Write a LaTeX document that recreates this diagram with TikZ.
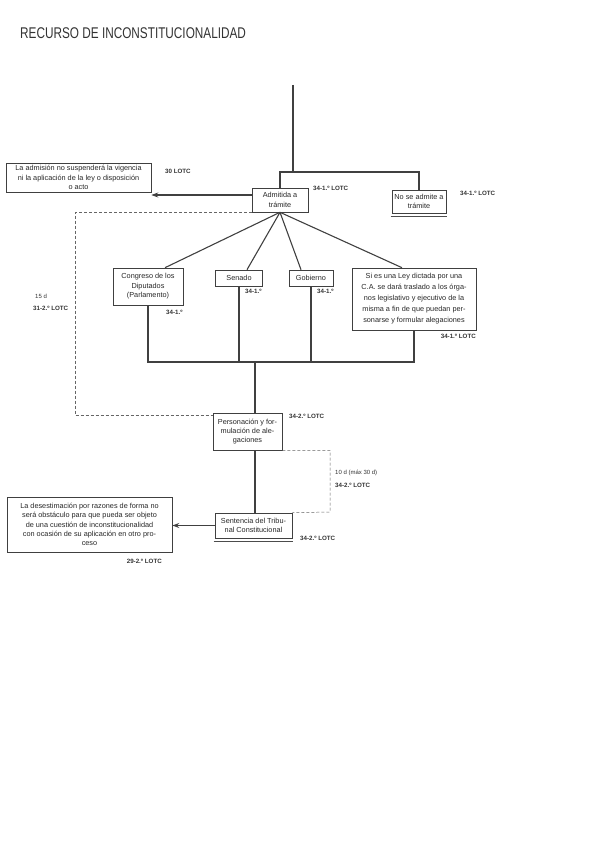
\documentclass[tikz,border=0pt]{standalone}
\usepackage{fontspec}
\setmainfont{Liberation Sans}
\usetikzlibrary{calc,arrows.meta}
\begin{document}
\begin{tikzpicture}[
		x=1pt, y=-1pt,
		caja/.style={
			draw=black!75,
			rectangle,
			line width=0.6pt,
			inner sep=1pt,
			align=center,
			text=black!85,
			font=\fontsize{7.3}{9.4}\selectfont
		},
		etiqueta/.style={
			anchor=west,
			inner sep=0pt,
			text=black!80,
			font=\fontsize{6.2}{7}\selectfont\bfseries
		},
		linea/.style={line width=1.1pt, draw=black!75},
		flecha/.style={linea, -{Stealth[length=7pt,width=5pt]}},
		discontinua/.style={dash pattern=on 3pt off 2pt, line width=0.5pt, draw=black!60}
		]
		\useasboundingbox (0,0) rectangle (600,848);
		
		\node[anchor=west, inner sep=0pt, text=black!80, font=\fontsize{15.5}{15.5}\selectfont] (titulo) at (20,33) {\scalebox{0.76}[1]{RECURSO DE INCONSTITUCIONALIDAD}};
		
		\coordinate (inicio) at (293,85);
		\coordinate (cruce) at (293,172);
		
		\node[caja, minimum width=145pt, minimum height=29pt] (suspension) at (78.5,177.5) {La admisión no suspenderá la vigencia\\ ni la aplicación de la ley o disposición\\ o acto};
		\node[caja, minimum width=56pt, minimum height=24pt] (admitida) at (280,200) {Admitida a\\ trámite};
		\node[caja, minimum width=54pt, minimum height=23pt] (noadmite) at (419,201.5) {No se admite a\\ trámite};
		
		\node[caja, minimum width=70pt, minimum height=37pt] (congreso) at (148,286.5) {Congreso de los\\ Diputados\\ (Parlamento)};
		\node[caja, minimum width=47pt, minimum height=16pt] (senado) at (239,278) {Senado};
		\node[caja, minimum width=44pt, minimum height=16pt] (gobierno) at (311,278) {Gobierno};
		\node[caja, minimum width=124pt, minimum height=62pt, font=\fontsize{7.3}{11}\selectfont] (ccaa) at (414,299) {Si es una Ley dictada por una\\ C.A. se dará traslado a los órga-\\ nos legislativo y ejecutivo de la\\ misma a fin de que puedan per-\\ sonarse y formular alegaciones};
		
		\node[caja, minimum width=69pt, minimum height=37pt] (personacion) at (247.5,431.5) {Personación y for-\\ mulación de ale-\\ gaciones};
		\node[caja, minimum width=77pt, minimum height=25pt] (sentencia) at (253.5,525.5) {Sentencia del Tribu-\\ nal Constitucional};
		\node[caja, minimum width=165pt, minimum height=55pt] (desestimacion) at (89.5,524.5) {La desestimación por razones de forma no\\ será obstáculo para que pueda ser objeto\\ de una cuestión de inconstitucionalidad\\ con ocasión de su aplicación en otro pro-\\ ceso};
		
		%Etiquetas
		\node[etiqueta] (l30) at (165,171) {30 LOTC};
		\node[etiqueta] (ladm) at (313,188) {34-1.º LOTC};
		\node[etiqueta] (lnoadm) at (460,193) {34-1.º LOTC};
		\node[etiqueta] (lcong) at (166,312) {34-1.º};
		\node[etiqueta] (lsen) at (245,291) {34-1.º};
		\node[etiqueta] (lgob) at (317,291) {34-1.º};
		\node[etiqueta, anchor=east] (lccaa) at (476,336) {34-1.º LOTC};
		\node[etiqueta, font=\fontsize{6}{7}\selectfont] (lplazo1) at (35,296) {15 d};
		\node[etiqueta] (lplazo2) at (33,308) {31-2.º LOTC};
		\node[etiqueta] (lpers) at (289,416) {34-2.º LOTC};
		\node[etiqueta, font=\fontsize{6}{7}\selectfont] (lplazo3) at (335,473) {10 d (máx 30 d)};
		\node[etiqueta] (lplazo4) at (335,485) {34-2.º LOTC};
		\node[etiqueta] (lsent) at (300,538) {34-2.º LOTC};
		\node[etiqueta, anchor=east] (ldes) at (162,561) {29-2.º LOTC};
		
		%Lineas
		\coordinate (salida) at ($(admitida.west)+(0,-5)$);
		\draw[linea] (inicio) -- (cruce);
		\draw[linea] (admitida.north) |- (cruce) -| (noadmite.north);
		\draw[flecha] (salida) -- (salida -| suspension.east);
		
		\draw[linea] (admitida.south) -- ($(congreso.north)+(17,0)$);
		\draw[linea] (admitida.south) -- ($(senado.north)+(8,0)$);
		\draw[linea] (admitida.south) -- ($(gobierno.north)+(-10,0)$);
		\draw[linea] (admitida.south) -- ($(ccaa.north)+(-12,0)$);
		
		\coordinate (union) at (255,362);
		\draw[linea] (congreso.south) |- (union);
		\draw[linea] (ccaa.south) |- (union);
		\draw[linea] (senado.south) -- (senado.south |- union);
		\draw[linea] (gobierno.south) -- (gobierno.south |- union);
		\draw[linea] (union) -- (union |- personacion.north);
		\draw[linea] (union |- personacion.south) -- (union |- sentencia.north);
		\draw[flecha] (sentencia.west) -- (sentencia.west -| desestimacion.east);
		
		\coordinate (esquina) at (75,415);
		\coordinate (plazo) at (330,512);
		\draw[discontinua] (admitida.south west) -| (esquina) -- (esquina -| personacion.west);
		\draw[discontinua] (personacion.south east) -| (plazo) -- (sentencia.north east);
		
		\draw[line width=0.6pt, black!70] ($(noadmite.south west)+(-1,3)$) -- ($(noadmite.south east)+(1,3)$);
		\draw[line width=0.6pt, black!70] ($(sentencia.south west)+(-1,3)$) -- ($(sentencia.south east)+(1,3)$);
		
	\end{tikzpicture}
\end{document}
